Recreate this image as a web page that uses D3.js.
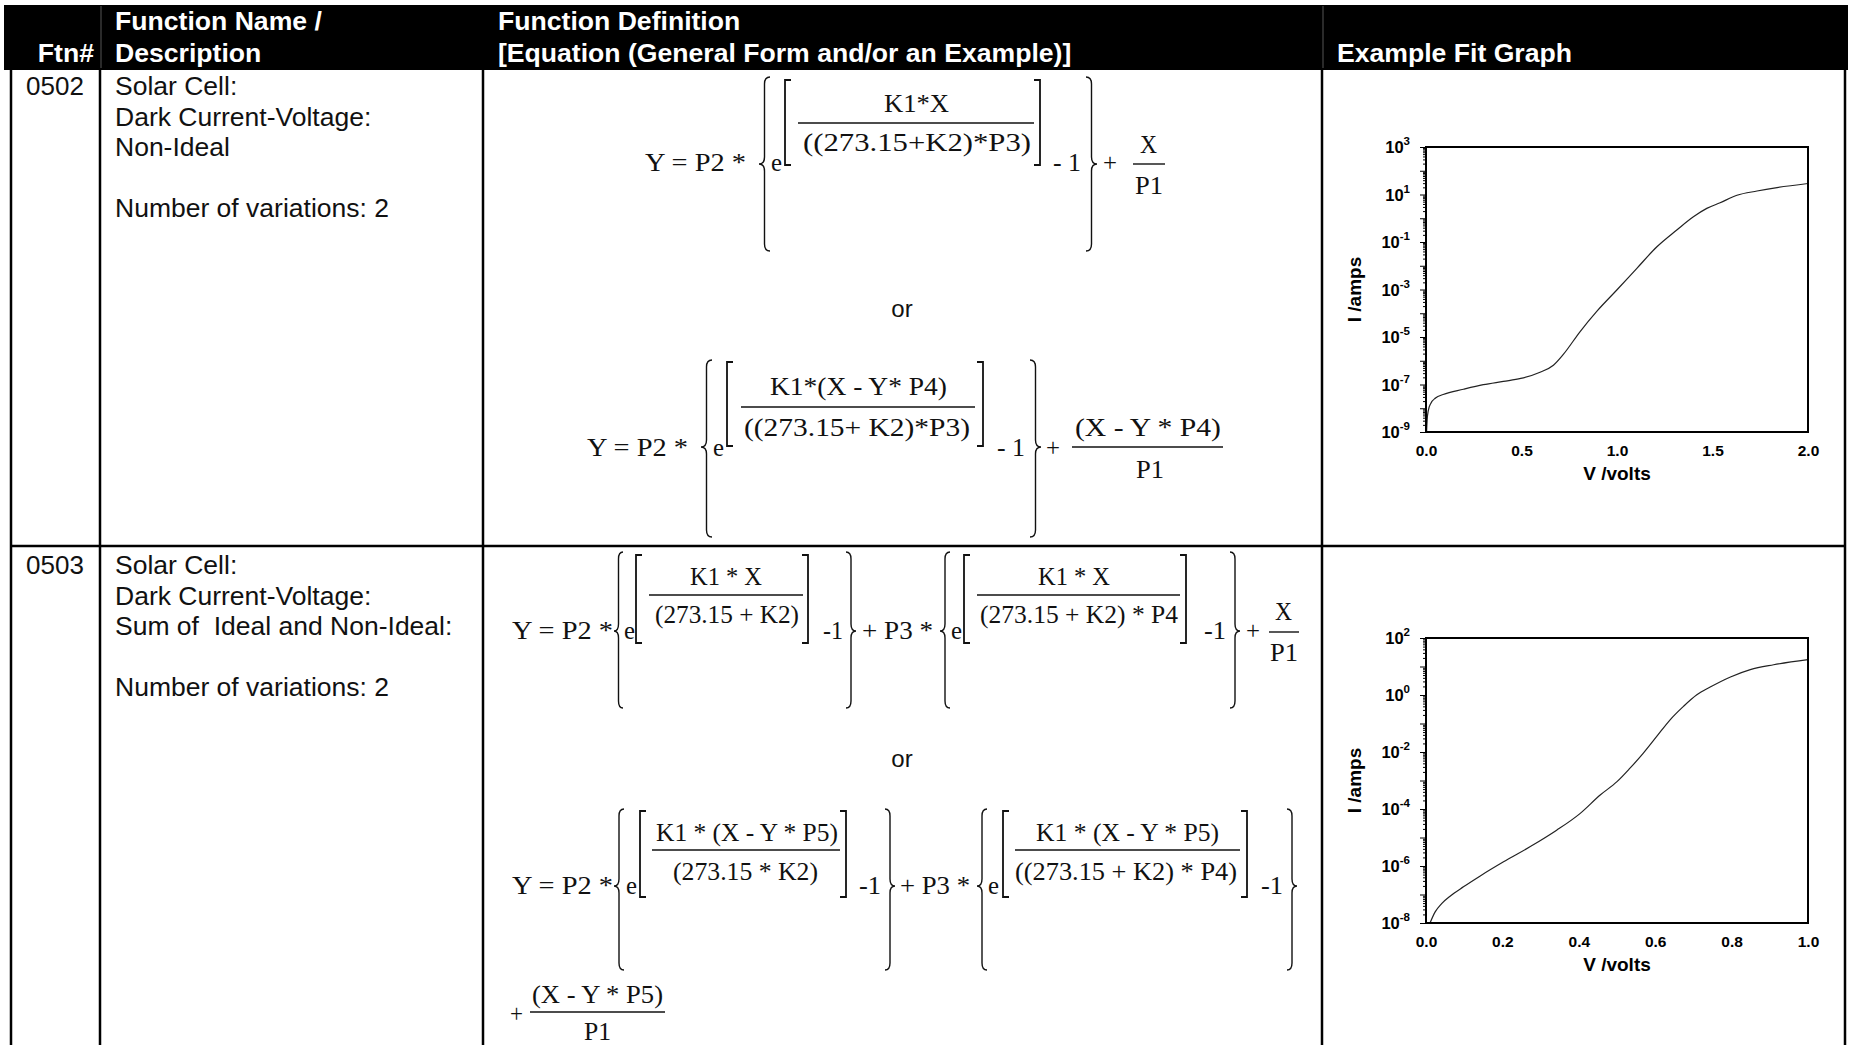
<!DOCTYPE html>
<html>
<head>
<meta charset="utf-8">
<script src="https://cdn.jsdelivr.net/npm/d3@7"></script>
<style>
  body { margin: 0; background: #fff; }
  svg text { font-family: "Liberation Sans", Arial, sans-serif; white-space: pre; }
  .eq text { font-family: "Liberation Serif", "Times New Roman", serif; font-size: 26px; fill: #111; }
</style>
</head>
<body>
<svg id="page" width="1851" height="1045"></svg>
<script>
// table text
const ftnIds = ["0502", "0503"];
const descLines = [
  ["Solar Cell:", "Dark Current-Voltage:", "Non-Ideal", "", "Number of variations: 2"],
  ["Solar Cell:", "Dark Current-Voltage:", "Sum of  Ideal and Non-Ideal:", "", "Number of variations: 2"]
];

// graph 0502: V (volts) vs I (amps)
const v502 = [0.003, 0.006, 0.012, 0.025, 0.05, 0.09, 0.196, 0.30, 0.405, 0.496, 0.597, 0.667, 0.72,
  0.807, 0.894, 0.999, 1.104, 1.209, 1.313, 1.40, 1.47, 1.54, 1.628, 1.733, 1.838, 2.0];
const i502 = [1e-9, 3.2e-9, 7.9e-9, 1.6e-8, 2.7e-8, 3.8e-8, 6.3e-8, 9.8e-8, 1.35e-7, 1.8e-7, 3.3e-7, 6.5e-7, 1.9e-6,
  1.7e-5, 1.2e-4, 9.5e-4, 7.8e-3, 6.3e-2, 0.32, 1.15, 2.6, 4.5, 9.3, 14, 19.5, 29];
const xTicks502 = [0, 0.5, 1.0, 1.5, 2.0];
const yExp502 = [3, 1, -1, -3, -5, -7, -9];

// graph 0503
const v503 = [0.0105, 0.024, 0.041, 0.063, 0.098, 0.141, 0.203, 0.272, 0.342, 0.403, 0.456, 0.50,
  0.534, 0.569, 0.604, 0.639, 0.674, 0.709, 0.744, 0.797, 0.849, 0.91, 1.0];
const i503 = [1e-8, 2.45e-8, 4.8e-8, 8.7e-8, 1.86e-7, 4.4e-7, 1.4e-6, 4.7e-6, 1.8e-5, 6.9e-5, 3.1e-4, 9.1e-4,
  2.7e-3, 9.1e-3, 3.5e-2, 0.135, 0.40, 1.02, 1.9, 4.3, 7.8, 11.5, 17.4];
const xTicks503 = [0, 0.2, 0.4, 0.6, 0.8, 1.0];
const yExp503 = [2, 0, -2, -4, -6, -8];

const svg = d3.select("#page");

// ---- table frame ----
svg.append("rect").attr("x", 4).attr("y", 5).attr("width", 1844).attr("height", 65).attr("fill", "#000");
[101, 1323].forEach(x => svg.append("line").attr("x1", x).attr("x2", x).attr("y1", 6).attr("y2", 68)
  .attr("stroke", "#555").attr("stroke-width", 1));

const head = svg.append("g").attr("fill", "#fff").attr("font-weight", "bold").attr("font-size", 26.6);
head.append("text").attr("x", 94).attr("y", 62).attr("text-anchor", "end").text("Ftn#");
head.append("text").attr("x", 115).attr("y", 30).text("Function Name /");
head.append("text").attr("x", 115).attr("y", 62).text("Description");
head.append("text").attr("x", 498).attr("y", 30).text("Function Definition");
head.append("text").attr("x", 498).attr("y", 62).text("[Equation (General Form and/or an Example)]");
head.append("text").attr("x", 1337).attr("y", 62).text("Example Fit Graph");

const grid = svg.append("g").attr("stroke", "#000").attr("stroke-width", 2.5);
[11, 100, 483, 1322, 1845].forEach(x => grid.append("line").attr("x1", x).attr("x2", x).attr("y1", 70).attr("y2", 1045));
grid.append("line").attr("x1", 11).attr("x2", 1845).attr("y1", 546).attr("y2", 546);

const rowTop = [95, 574];
ftnIds.forEach((id, r) => {
  svg.append("text").attr("x", 26).attr("y", rowTop[r]).attr("font-size", 26).attr("fill", "#111").text(id);
  descLines[r].forEach((s, k) => svg.append("text").attr("x", 115).attr("y", rowTop[r] + k * 30.6)
    .attr("font-size", 26.5).attr("fill", "#111").text(s));
});

// "or" between equation forms
[317, 767].forEach(y => svg.append("text").attr("x", 902).attr("y", y).attr("text-anchor", "middle")
  .attr("font-size", 24).attr("fill", "#111").text("or"));

// ---- equations ----
// t: text [s, x, baseline, width]; lb/rb: braces [x0, x1, top, bottom, mid]; ls/rs: square brackets [x, top, bottom]; bar: [x0, x1, y]
const equations = [
  [
    ["t", "Y = P2 *", 645, 171, 101], ["lb", 759, 770, 77, 251, 164], ["t", "e", 771, 171, 11],
    ["ls", 785, 80, 165], ["t", "K1*X", 884, 112, 65], ["bar", 798, 1034, 123],
    ["t", "((273.15+K2)*P3)", 803, 151, 228], ["rs", 1040, 80, 165], ["t", "- 1", 1053, 171, 28],
    ["rb", 1086, 1097, 77, 251, 164], ["t", "+", 1103, 171, 14],
    ["t", "X", 1140, 153, 17], ["bar", 1133, 1165, 164], ["t", "P1", 1135, 194, 28]
  ],
  [
    ["t", "Y = P2 *", 587, 456, 101], ["lb", 701, 712, 360, 537, 447], ["t", "e", 713, 456, 11],
    ["ls", 727, 362, 446], ["t", "K1*(X - Y* P4)", 770, 395, 177], ["bar", 741, 975, 407],
    ["t", "((273.15+ K2)*P3)", 744, 436, 226], ["rs", 983, 362, 446], ["t", "- 1", 997, 456, 28],
    ["rb", 1030, 1041, 360, 537, 447], ["t", "+", 1046, 456, 14],
    ["t", "(X - Y * P4)", 1075, 436, 146], ["bar", 1072, 1223, 447], ["t", "P1", 1136, 478, 28]
  ],
  [
    ["t", "Y = P2 *", 512, 639, 101], ["lb", 614, 623, 552, 708, 631], ["t", "e", 624, 639, 11],
    ["ls", 636, 555, 643], ["t", "K1 * X", 690, 585, 72], ["bar", 649, 803, 595],
    ["t", "(273.15 + K2)", 655, 623, 144], ["rs", 808, 555, 643], ["t", "-1", 823, 639, 20],
    ["rb", 846, 856, 552, 708, 631], ["t", "+ P3 *", 862, 639, 71],
    ["lb", 940, 950, 552, 708, 631], ["t", "e", 951, 639, 11], ["ls", 964, 555, 643],
    ["t", "K1 * X", 1038, 585, 72], ["bar", 977, 1180, 595], ["t", "(273.15 + K2) * P4", 980, 623, 198],
    ["rs", 1186, 555, 643], ["t", "-1", 1204, 639, 22], ["rb", 1230, 1240, 552, 708, 631],
    ["t", "+", 1246, 639, 14], ["t", "X", 1275, 620, 17], ["bar", 1269, 1299, 632], ["t", "P1", 1270, 661, 28]
  ],
  [
    ["t", "Y = P2 *", 512, 894, 101], ["lb", 614, 624, 809, 970, 886], ["t", "e", 626, 894, 11],
    ["ls", 640, 811, 897], ["t", "K1 * (X - Y * P5)", 656, 841, 182], ["bar", 652, 840, 850],
    ["t", "(273.15 * K2)", 673, 880, 145], ["rs", 846, 811, 897], ["t", "-1", 859, 894, 22],
    ["rb", 885, 895, 809, 970, 886], ["t", "+ P3 *", 900, 894, 70],
    ["lb", 977, 987, 809, 970, 886], ["t", "e", 988, 894, 11], ["ls", 1003, 811, 897],
    ["t", "K1 * (X - Y * P5)", 1036, 841, 183], ["bar", 1015, 1240, 850],
    ["t", "((273.15 + K2) * P4)", 1015, 880, 222], ["rs", 1247, 811, 897], ["t", "-1", 1261, 894, 22],
    ["rb", 1287, 1297, 809, 970, 886],
    ["t", "+", 510, 1022, 13], ["t", "(X - Y * P5)", 532, 1003, 131], ["bar", 530, 665, 1012], ["t", "P1", 584, 1040, 27]
  ]
];

function bracePath(x0, x1, y0, y1, ym, left) {
  const xm = (x0 + x1) / 2, r = 7;
  const end = left ? x1 : x0, tip = left ? x0 : x1;
  return `M${end},${y0} Q${xm},${y0} ${xm},${y0 + r} L${xm},${ym - r} Q${xm},${ym} ${tip},${ym}` +
    ` Q${xm},${ym} ${xm},${ym + r} L${xm},${y1 - r} Q${xm},${y1} ${end},${y1}`;
}

const eqG = svg.append("g").attr("class", "eq");
equations.forEach(items => {
  items.forEach(it => {
    const k = it[0];
    if (k === "t") {
      eqG.append("text").attr("x", it[2]).attr("y", it[3])
        .attr("textLength", it[4]).attr("lengthAdjust", "spacingAndGlyphs").text(it[1]);
    } else if (k === "lb" || k === "rb") {
      eqG.append("path").attr("d", bracePath(it[1], it[2], it[3], it[4], it[5], k === "lb"))
        .attr("fill", "none").attr("stroke", "#111").attr("stroke-width", 1.4);
    } else if (k === "ls" || k === "rs") {
      const dx = k === "ls" ? 6 : -6;
      eqG.append("path").attr("d", `M${it[1] + dx},${it[2]} L${it[1]},${it[2]} L${it[1]},${it[3]} L${it[1] + dx},${it[3]}`)
        .attr("fill", "none").attr("stroke", "#111").attr("stroke-width", 1.8);
    } else if (k === "bar") {
      eqG.append("line").attr("x1", it[1]).attr("x2", it[2]).attr("y1", it[3]).attr("y2", it[3])
        .attr("stroke", "#111").attr("stroke-width", 1.4);
    }
  });
});

// ---- fit graphs ----
function drawGraph(cfg) {
  const g = svg.append("g");
  const x = d3.scaleLinear().domain(cfg.xDomain).range([cfg.left, cfg.right]);
  const y = d3.scaleLog().domain(cfg.yDomain).range([cfg.bottom, cfg.top]);
  const lo = Math.round(Math.log10(cfg.yDomain[0])), hi = Math.round(Math.log10(cfg.yDomain[1]));

  const majors = d3.range(lo, hi + 1).map(e => Math.pow(10, e));
  const minors = [];
  d3.range(lo, hi).forEach(e => d3.range(2, 10).forEach(m => minors.push(m * Math.pow(10, e))));

  g.append("g").attr("transform", `translate(${cfg.left},0)`)
    .call(d3.axisLeft(y).tickValues(minors).tickSize(3).tickFormat(""))
    .call(a => a.select(".domain").remove());
  g.append("g").attr("transform", `translate(${cfg.left},0)`)
    .call(d3.axisLeft(y).tickValues(majors).tickSize(6).tickFormat(""))
    .call(a => a.select(".domain").remove());
  g.selectAll(".tick line").attr("stroke", "#000");

  const xa = g.append("g").attr("transform", `translate(0,${cfg.bottom})`)
    .call(d3.axisBottom(x).tickValues(cfg.xTicks).tickSize(0).tickPadding(13).tickFormat(d3.format(".1f")));
  xa.select(".domain").remove();
  xa.selectAll("text").attr("font-family", "Liberation Sans, Arial, sans-serif")
    .attr("font-size", 15.5).attr("font-weight", "bold").attr("fill", "#000");

  const yl = g.selectAll("text.ylab").data(cfg.yExp).join("text").attr("class", "ylab")
    .attr("x", cfg.left - 16).attr("y", d => y(Math.pow(10, d)) + 6)
    .attr("text-anchor", "end").attr("font-size", 16.5).attr("font-weight", "bold");
  yl.append("tspan").text("10");
  yl.append("tspan").attr("dy", -8).attr("font-size", 11.5).text(d => String(d));

  g.append("path").datum(d3.zip(cfg.v, cfg.i))
    .attr("fill", "none").attr("stroke", "#222").attr("stroke-width", 1.2)
    .attr("d", d3.line().x(d => x(d[0])).y(d => y(d[1])).curve(d3.curveMonotoneX));

  g.append("rect").attr("x", cfg.left).attr("y", cfg.top)
    .attr("width", cfg.right - cfg.left).attr("height", cfg.bottom - cfg.top)
    .attr("fill", "none").attr("stroke", "#000").attr("stroke-width", 2);

  g.append("text").attr("x", (cfg.left + cfg.right) / 2).attr("y", cfg.bottom + 48)
    .attr("text-anchor", "middle").attr("font-size", 19).attr("font-weight", "bold").text("V /volts");
  const cy = (cfg.top + cfg.bottom) / 2;
  g.append("text").attr("transform", `translate(1361,${cy}) rotate(-90)`)
    .attr("text-anchor", "middle").attr("font-size", 19).attr("font-weight", "bold").text("I /amps");
}

drawGraph({ v: v502, i: i502, xDomain: [0, 2], yDomain: [1e-9, 1e3], xTicks: xTicks502, yExp: yExp502,
  left: 1426, right: 1808, top: 147, bottom: 432 });
drawGraph({ v: v503, i: i503, xDomain: [0, 1], yDomain: [1e-8, 1e2], xTicks: xTicks503, yExp: yExp503,
  left: 1426, right: 1808, top: 638, bottom: 923 });
</script>
</body>
</html>
